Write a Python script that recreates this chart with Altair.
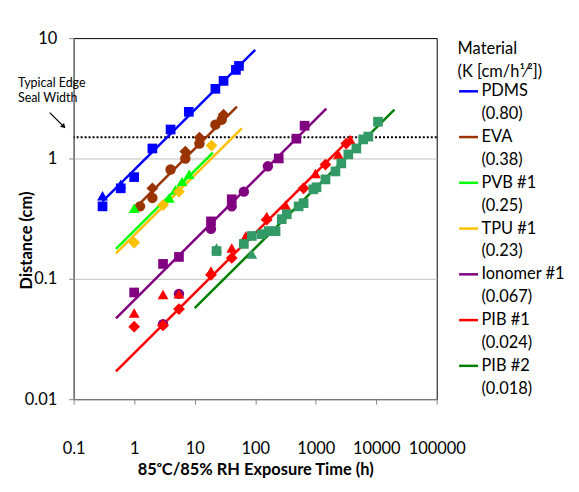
import altair as alt
import pandas as pd

# ---------------- data ----------------
materials = ["PDMS", "EVA", "PVB #1", "TPU #1", "Ionomer #1", "PIB #1", "PIB #2"]
k_labels = ["(0.80)", "(0.38)", "(0.25)", "(0.23)", "(0.067)", "(0.024)", "(0.018)"]
line_colors = ["#0000FF", "#993300", "#00FF00", "#FFC000", "#800080", "#FF0000", "#008000"]
marker_colors = ["#0000FF", "#993300", "#00FF00", "#FFC000", "#800080", "#FF0000", "#339966"]

# fitted sqrt(t) lines: start / end points (t in h, d in cm)
line_t_start = [0.3, 1, 0.5, 0.5, 0.5, 0.5, 10]
line_t_end = [100, 50, 20, 60, 1500, 4000, 20000]
line_d_start = [0.44, 0.38, 0.177, 0.163, 0.047, 0.017, 0.057]
line_d_end = [8.0, 2.69, 1.12, 1.78, 2.6, 1.52, 2.55]

SQ, TR, CI, DI = "square", "triangle-up", "circle", "diamond"
shape_names = [SQ, TR, CI, DI]
shape_sizes = [95, 120, 110, 140]

pdms_t = [0.3, 0.3, 0.6, 0.6, 1, 2, 4, 8, 22, 30, 48, 54]
pdms_d = [0.40, 0.49, 0.565, 0.61, 0.70, 1.21, 1.74, 2.44, 3.79, 4.41, 5.44, 5.87]
pdms_s = [SQ, TR, SQ, TR, SQ, SQ, SQ, SQ, SQ, SQ, SQ, SQ]

eva_t = [1.25, 2, 2, 4, 7, 7, 12, 12, 22, 28, 30]
eva_d = [0.40, 0.565, 0.47, 0.81, 1.0, 1.14, 1.33, 1.49, 1.91, 2.10, 2.31]
eva_s = [CI, DI, CI, CI, CI, DI, CI, DI, CI, CI, DI]

pvb_t = [1.0, 3.8, 4.8, 6.2, 8.1]
pvb_d = [0.386, 0.47, 0.55, 0.645, 0.74]
pvb_s = [TR, TR, TR, TR, TR]

tpu_t = [1.0, 3.0, 5.5, 19]
tpu_d = [0.20, 0.41, 0.53, 1.28]
tpu_s = [DI, DI, DI, DI]

ion_t = [1, 3, 5.5, 3, 5.5, 18.6, 18.6, 41, 41, 65, 162, 245, 480, 655]
ion_d = [0.077, 0.133, 0.152, 0.042, 0.075, 0.30, 0.26, 0.458, 0.40, 0.53, 0.86, 1.0, 1.46, 1.87]
ion_s = [SQ, SQ, SQ, CI, CI, SQ, CI, SQ, CI, CI, CI, SQ, SQ, SQ]

pib1_t = [1, 1, 3, 3, 5.5, 5.5, 18.6, 18.6, 41, 41, 70, 155, 155, 318, 630, 990, 1450, 2370, 3200, 3700]
pib1_d = [0.052, 0.040, 0.074, 0.041, 0.075, 0.056, 0.116, 0.108, 0.18, 0.149, 0.227, 0.31, 0.33,
          0.41, 0.565, 0.75, 0.89, 1.08, 1.33, 1.44]
pib1_s = [TR, DI, TR, DI, TR, DI, TR, DI, TR, DI, TR, DI, TR, TR, DI, TR, DI, TR, DI, TR]

pib2_t = [23, 23, 65, 88, 88, 128, 167, 217, 275, 333, 522, 630, 915, 1030, 1450, 2120, 2650,
          3460, 4700, 6100, 7400, 10700]
pib2_d = [0.17, 0.18, 0.195, 0.227, 0.161, 0.235, 0.249, 0.249, 0.313, 0.344, 0.40, 0.425, 0.554,
          0.576, 0.67, 0.78, 0.91, 1.08, 1.21, 1.44, 1.52, 2.02]
pib2_s = [SQ, TR, SQ, SQ, TR] + [SQ] * 17

seal_width = 1.5

# annotation (data coordinates)
note_lines = ["Typical Edge", "Seal Width"]
note_t = [0.012, 0.012]
note_d = [4.25, 3.2]
arrow_t = [0.0403, 0.0686]
arrow_d = [2.40, 1.84]

# ---------------- tables ----------------
series_pts = [
    (pdms_t, pdms_d, pdms_s), (eva_t, eva_d, eva_s), (pvb_t, pvb_d, pvb_s),
    (tpu_t, tpu_d, tpu_s), (ion_t, ion_d, ion_s), (pib1_t, pib1_d, pib1_s),
    (pib2_t, pib2_d, pib2_s),
]
size_of = dict(zip(shape_names, shape_sizes))
rows = []
for i, (ts, ds, ss) in enumerate(series_pts):
    for t, d, s in zip(ts, ds, ss):
        rows.append({"t": t, "d": d, "shape": s, "msize": size_of[s],
                     "mcolor": marker_colors[i], "material": materials[i]})
pts = pd.DataFrame(rows)

lrows = []
for i, m in enumerate(materials):
    lrows.append({"t": line_t_start[i], "d": line_d_start[i], "material": m})
    lrows.append({"t": line_t_end[i], "d": line_d_end[i], "material": m})
lines = pd.DataFrame(lrows)

legend_domain, legend_range = [], []
for m, k, c in zip(materials, k_labels, line_colors):
    legend_domain += [m, k]
    legend_range += [c, "rgba(0,0,0,0)"]

notes = pd.DataFrame({"t": note_t, "d": note_d, "text": note_lines})
arrow = pd.DataFrame({"t": [arrow_t[0]], "d": [arrow_d[0]], "t2": [arrow_t[1]], "d2": [arrow_d[1]]})
arrow_head = pd.DataFrame({"t": [arrow_t[1]], "d": [arrow_d[1]]})

FONT = "Lato"
FS = 16.5
AXIS_GRAY = "#868686"

xscale = alt.Scale(type="log", domain=[0.1, 100000], nice=False)
yscale = alt.Scale(type="log", domain=[0.01, 10], nice=False)

xaxis = alt.Axis(values=[0.1, 1, 10, 100, 1000, 10000, 100000], format=".1~f", grid=False,
                 labelOverlap=False, labelBound=False, labelFlush=False,
                 domainColor=AXIS_GRAY, tickColor=AXIS_GRAY, tickSize=5, labelPadding=37,
                 labelFont=FONT, labelFontSize=FS, labelColor="black",
                 title="85ᵒC/85% RH Exposure Time (h)", titleFont=FONT, titleFontSize=FS,
                 titleFontWeight="bold", titleColor="black", titleY=71, titleBaseline="middle")
yaxis = alt.Axis(values=[0.01, 0.1, 1, 10], format=".2~f", grid=True,
                 labelOverlap=False, labelBound=False, labelFlush=False,
                 gridColor=alt.condition("datum.value == 1 || datum.value == 0.1",
                                         alt.value("#BFBFBF"), alt.value("rgba(0,0,0,0)")),
                 domainColor=AXIS_GRAY, tickColor=AXIS_GRAY, tickSize=5, labelPadding=12,
                 labelFont=FONT, labelFontSize=FS, labelColor="black",
                 title="Distance (cm)", titleFont=FONT, titleFontSize=FS, titleFontWeight="bold",
                 titleColor="black", titleX=-47, titleY=203, titleBaseline="middle",
                 titleAlign="center")

legend = alt.Legend(orient="none", legendX=386, legendY=3,
                    title=["Material", "(K [cm/h¹⁄²])"], titleFont=FONT, titleFontSize=FS,
                    titleFontWeight="normal", titleLineHeight=23, titlePadding=0,
                    titleColor="black", labelFont=FONT, labelFontSize=FS, labelColor="black",
                    labelOffset=2, symbolType="stroke", symbolStrokeWidth=2.5, symbolSize=361,
                    rowPadding=3, padding=0, labelLimit=200)

line_layer = alt.Chart(lines).mark_line(strokeWidth=2.5).encode(
    x=alt.X("t:Q", scale=xscale, axis=xaxis),
    y=alt.Y("d:Q", scale=yscale, axis=yaxis),
    color=alt.Color("material:N", scale=alt.Scale(domain=legend_domain, range=legend_range),
                    legend=legend),
    order="t:Q",
)

point_layer = alt.Chart(pts).mark_point(filled=True, opacity=1, strokeWidth=0).encode(
    x="t:Q", y="d:Q",
    shape=alt.Shape("shape:N", scale=None, legend=None),
    size=alt.Size("msize:Q", scale=None, legend=None),
    fill=alt.Fill("mcolor:N", scale=None, legend=None),
)

seal_rule = alt.Chart(pd.DataFrame({"d": [seal_width]})).mark_rule(
    color="black", strokeWidth=2, strokeDash=[2, 2]).encode(y="d:Q")

note_layer = alt.Chart(notes).mark_text(align="left", baseline="middle", font=FONT,
                                        fontSize=12.5, color="black").encode(
    x="t:Q", y="d:Q", text="text:N")

arrow_layer = alt.Chart(arrow).mark_rule(color="black", strokeWidth=1.2).encode(
    x="t:Q", y="d:Q", x2="t2:Q", y2="d2:Q")
head_layer = alt.Chart(arrow_head).mark_point(shape="triangle-up", angle=135, size=30,
                                              filled=True, color="black", opacity=1).encode(
    x="t:Q", y="d:Q")

chart = alt.layer(seal_rule, line_layer, point_layer, note_layer, arrow_layer, head_layer).properties(
    width=365, height=363,
    autosize=alt.AutoSizeParams(type="none"),
    padding={"left": 66, "top": 29, "right": 135, "bottom": 80},
    background="white",
).configure_view(stroke="black", strokeWidth=1)

chart.save("out.html", embed_options={"renderer": "svg", "actions": False})
